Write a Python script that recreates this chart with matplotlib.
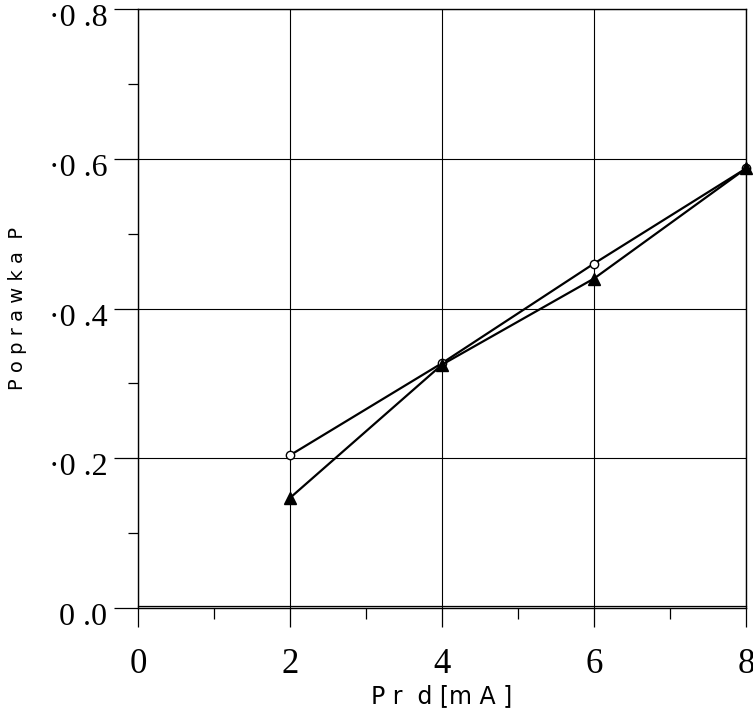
import matplotlib.pyplot as plt
import matplotlib.transforms as mtransforms
from matplotlib.ticker import MultipleLocator

# Data
prad = [2, 4, 6, 8]
poprawka_o = [0.204, 0.327, 0.460, 0.587]
poprawka_t = [0.147, 0.325, 0.440, 0.587]

xticks = [0, 2, 4, 6, 8]
yticks = [0.0, 0.2, 0.4, 0.6, 0.8]
ytick_labels = ['0 .0', '·0 .2', '·0 .4', '·0 .6', '·0 .8']

fig = plt.figure(figsize=(7.53, 7.17), dpi=100)
ax = fig.add_axes([138 / 753, 1 - 608 / 717, 608 / 753, 599 / 717])

ax.plot(prad, poprawka_o, color='black', lw=1.6, marker='o', ms=6,
        mfc='white', mec='black', mew=1.0, clip_on=False)
ax.plot(prad, poprawka_t, color='black', lw=1.6, marker='^', ms=8,
        mfc='black', mec='black', clip_on=False)

ax.set_xlim(0, 8)
ax.set_ylim(0, 0.8)
ax.set_xticks(xticks)
ax.set_yticks(yticks)
ax.set_yticklabels(ytick_labels)
ax.xaxis.set_minor_locator(MultipleLocator(1))
ax.yaxis.set_minor_locator(MultipleLocator(0.1))

ax.grid(True, which='major', color='black', lw=0.8)
ax.tick_params(axis='x', which='major', length=14, width=0.9, pad=15,
               labelsize=25)
ax.tick_params(axis='x', which='minor', length=8, width=0.9)
ax.tick_params(axis='y', which='major', length=17, width=0.9, pad=5,
               labelsize=23)
ax.tick_params(axis='y', which='minor', length=7, width=0.9)
for lab in ax.get_xticklabels() + ax.get_yticklabels():
    lab.set_family('Liberation Serif')

# y labels sit a little below their ticks in the original
shift = mtransforms.ScaledTranslation(0, -6 / 100, fig.dpi_scale_trans)
for lab in ax.get_yticklabels():
    lab.set_transform(lab.get_transform() + shift)

for sp in ax.spines.values():
    sp.set_linewidth(1.0)

# second line just above the bottom axis
off = mtransforms.offset_copy(ax.transData, fig=fig, x=0, y=1.5, units='points')
ax.plot([0, 8], [0, 0], color='black', lw=0.9, transform=off, clip_on=False)

ax.set_xlabel('P r  d [m A ]', family='DejaVu Sans', fontsize=17, labelpad=2)
ax.set_ylabel('P o p r a w k a  P', family='DejaVu Sans', fontsize=14,
              labelpad=16)

fig.savefig('out.png', dpi=100)
